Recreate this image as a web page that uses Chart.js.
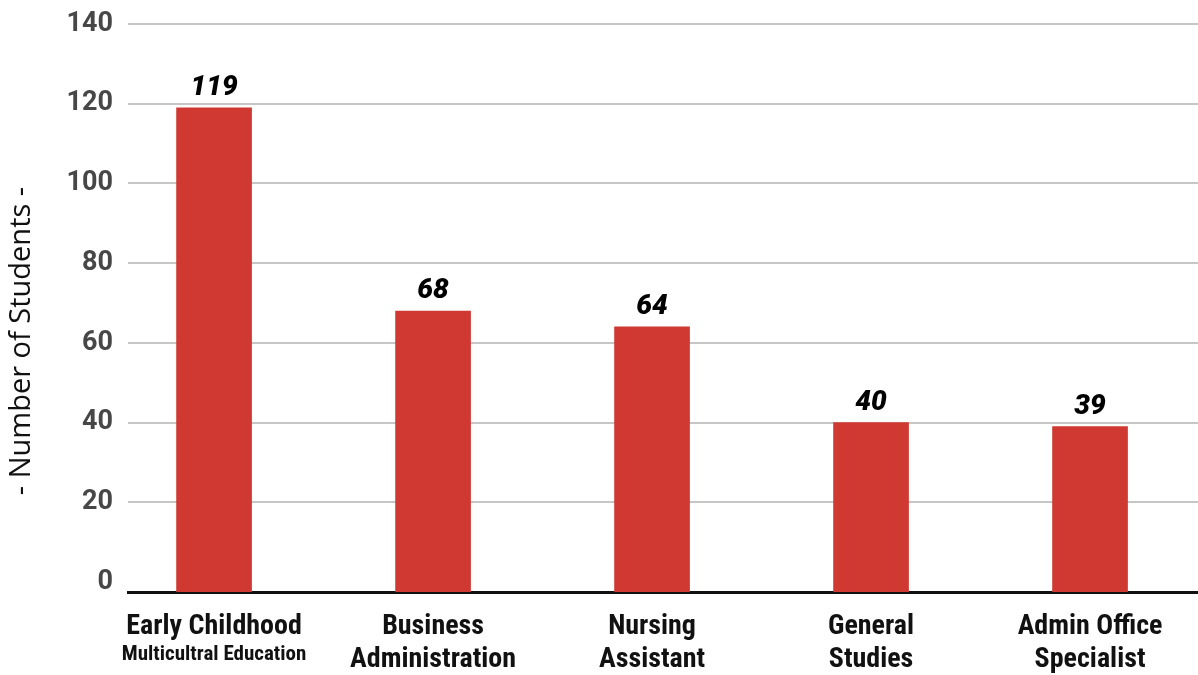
<!DOCTYPE html>
<html>
<head>
<meta charset="utf-8">
<title>Number of Students by Program</title>
<script src="https://cdn.jsdelivr.net/npm/chart.js@4/dist/chart.umd.min.js"></script>
<style>
  html, body { margin: 0; padding: 0; background: #ffffff; }
  #wrap { width: 1198px; height: 675px; position: relative; }
</style>
</head>
<body>
<div id="wrap"><canvas id="chart"></canvas></div>
<script>
// Program names (one array entry per tick line) and the small line under the first one
const programs = [
  ['Early Childhood'],
  ['Business', 'Administration'],
  ['Nursing', 'Assistant'],
  ['General', 'Studies'],
  ['Admin Office', 'Specialist']
];
const programNotes = ['Multicultral Education', '', '', '', ''];

// Enrolled students per program
const students = [119, 68, 64, 40, 39];

// Value-axis tick labels
const yTickValues = [0, 20, 40, 60, 80, 100, 120, 140];

const Y_MIN = -2.5;
const Y_MAX = 140;
const BAR_RED = '#cf3932';
const LABEL_FONT = "'Roboto Condensed', 'Liberation Sans Narrow', 'DejaVu Sans Condensed', Roboto, sans-serif";

// Value labels above each bar
const valueLabels = {
  id: 'valueLabels',
  afterDatasetsDraw(chart) {
    const ctx = chart.ctx;
    const meta = chart.getDatasetMeta(0);
    ctx.save();
    ctx.font = "italic 900 28px Roboto, Lato, sans-serif";
    ctx.fillStyle = '#000000';
    ctx.textAlign = 'center';
    ctx.textBaseline = 'alphabetic';
    meta.data.forEach((bar, i) => {
      ctx.fillText(String(students[i]), bar.x, bar.y - 13);
    });
    ctx.restore();
  }
};

// Second, smaller line under a program name, plus the rotated axis title
const extraText = {
  id: 'extraText',
  afterDraw(chart) {
    const ctx = chart.ctx;
    const xs = chart.scales.x;
    ctx.save();
    ctx.font = "bold 21px " + LABEL_FONT;
    ctx.fillStyle = '#111111';
    ctx.textAlign = 'center';
    ctx.textBaseline = 'alphabetic';
    programNotes.forEach((note, i) => {
      if (note) ctx.fillText(note, xs.getPixelForValue(i), chart.chartArea.bottom + 68);
    });

    const area = chart.chartArea;
    ctx.translate(22, (area.top + area.bottom) / 2 + 33);
    ctx.rotate(-Math.PI / 2);
    ctx.font = "29px 'Open Sans', sans-serif";
    ctx.fillStyle = '#111111';
    ctx.textAlign = 'center';
    ctx.textBaseline = 'middle';
    ctx.fillText('- Number of Students -', 0, 0);
    ctx.restore();
  }
};

new Chart(document.getElementById('chart'), {
  type: 'bar',
  data: {
    datasets: [{
      label: 'Number of Students',
      data: students.map((v, i) => ({ x: i, y: v })),
      backgroundColor: BAR_RED,
      borderWidth: 0,
      base: Y_MIN,
      barThickness: 75
    }]
  },
  options: {
    responsive: true,
    maintainAspectRatio: false,
    animation: false,
    events: [],
    layout: { padding: { top: 24, right: 0, bottom: 0, left: 0 } },
    plugins: {
      legend: { display: false },
      tooltip: { enabled: false }
    },
    scales: {
      x: {
        type: 'linear',
        offset: false,
        min: -0.393,
        max: 4.493,
        grid: { display: false, drawTicks: false, offset: false },
        border: { display: true, color: '#111111', width: 3 },
        afterBuildTicks(scale) {
          scale.ticks = programs.map((_, i) => ({ value: i }));
        },
        afterFit(scale) { scale.height = 83; },
        ticks: {
          autoSkip: false,
          maxRotation: 0,
          padding: 18,
          color: '#111111',
          font: { family: LABEL_FONT, size: 28, weight: 'bold', lineHeight: 1.18 },
          callback: (value) => programs[value]
        }
      },
      y: {
        min: Y_MIN,
        max: Y_MAX,
        afterBuildTicks(scale) {
          scale.ticks = yTickValues.map(v => ({ value: v }));
        },
        afterFit(scale) {
          scale.width = 128;
          scale.paddingTop = 0;
          scale.paddingBottom = 0;
        },
        border: { display: false },
        grid: {
          drawTicks: false,
          lineWidth: 2,
          color: (c) => (c.tick && c.tick.value === 0) ? 'rgba(0,0,0,0)' : '#c6c6c6'
        },
        ticks: {
          padding: 15,
          color: '#474747',
          font: { family: "Roboto, 'Open Sans', sans-serif", size: 27, weight: 'bold' }
        }
      }
    }
  },
  plugins: [valueLabels, extraText]
});
</script>
</body>
</html>
